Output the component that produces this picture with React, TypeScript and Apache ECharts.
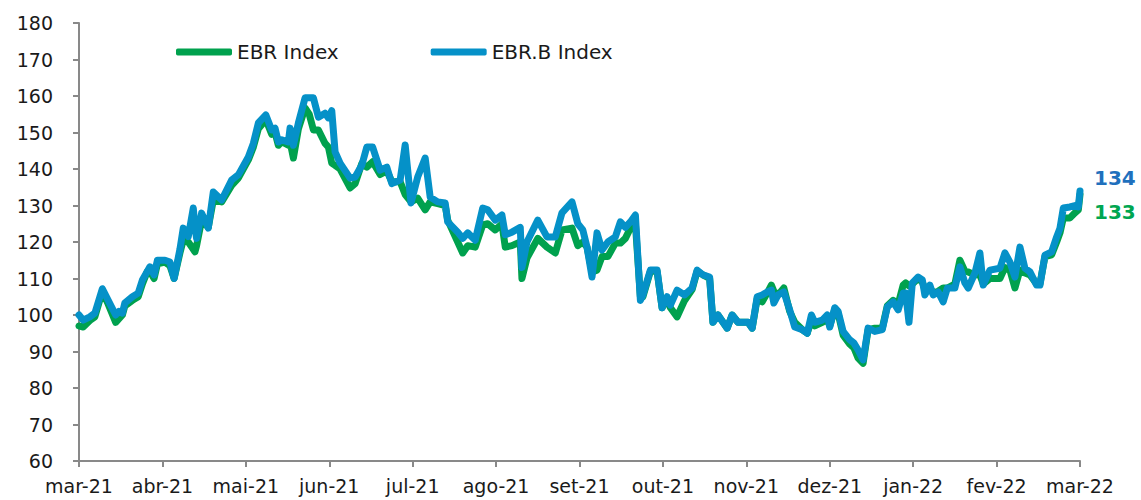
import React, { useEffect, useRef } from "react";
import * as echarts from "echarts";

// x position of each reading, in months since mar-21 (0 = mar-21, 12 = mar-22)
const months = [
  0, 0.05, 0.13, 0.19, 0.28, 0.35, 0.44, 0.48, 0.52, 0.55, 0.64, 0.71, 0.76, 0.82, 0.85, 0.9, 0.94,
  1.03, 1.09, 1.14, 1.21, 1.25, 1.31, 1.37, 1.39, 1.41, 1.47, 1.55, 1.61, 1.71, 1.83, 1.91,
  2.03, 2.09, 2.15, 2.24, 2.31, 2.35, 2.39, 2.43, 2.51, 2.53, 2.57, 2.63, 2.71, 2.76, 2.81, 2.87, 2.95, 2.99,
  3.03, 3.07, 3.13, 3.25, 3.31, 3.39, 3.45, 3.52, 3.61, 3.69, 3.75, 3.85, 3.91, 3.98,
  4.06, 4.15, 4.21, 4.3, 4.39, 4.42, 4.54, 4.6, 4.66, 4.75, 4.84, 4.9, 4.99,
  5.07, 5.11, 5.19, 5.29, 5.31, 5.37, 5.5, 5.61, 5.71, 5.79, 5.91, 5.98,
  6.04, 6.09, 6.15, 6.21, 6.27, 6.34, 6.43, 6.49, 6.55, 6.61, 6.67, 6.73, 6.76, 6.85, 6.93, 6.99,
  7.05, 7.09, 7.17, 7.26, 7.35, 7.41, 7.48, 7.56, 7.6, 7.66, 7.77, 7.83, 7.9,
  8.02, 8.07, 8.13, 8.19, 8.25, 8.3, 8.33, 8.38, 8.45, 8.52, 8.58, 8.67, 8.73, 8.78, 8.82, 8.91, 8.97,
  9.0, 9.06, 9.1, 9.16, 9.24, 9.29, 9.34, 9.4, 9.46, 9.54, 9.63, 9.69, 9.76, 9.82, 9.88, 9.91, 9.95, 9.99,
  10.06, 10.11, 10.14, 10.2, 10.24, 10.3, 10.36, 10.41, 10.5, 10.56, 10.62, 10.66, 10.74, 10.8, 10.84, 10.92,
  11.04, 11.1, 11.16, 11.22, 11.28, 11.34, 11.4, 11.48, 11.52, 11.58, 11.66, 11.72, 11.76, 11.8, 11.88, 11.94, 11.98,
  12,
];

// EBR.B Index (blue)
const ebrB = [
  100, 98.6, 99.5, 100.5, 107.2, 104, 100, 101, 100.5, 103.3, 105, 106, 109.6, 112, 113.2, 111, 115,
  115, 114.5, 110, 118, 123.8, 121.5, 129.3, 124, 121, 127.9, 123.8, 133.7, 131.5, 137, 138.4,
  143.3, 147, 152.6, 154.8, 150.7, 151.2, 147.4, 148, 147.4, 151.2, 146.5, 152.6, 159.5, 159.5, 159.5, 154.2, 155.3, 154,
  156, 144.7, 141.6, 137.5, 137.8, 141, 146, 146, 139.7, 140.5, 136, 137, 146.6, 130.7,
  137.8, 143, 132.3, 131, 130.7, 125.5, 122.7, 121, 122.5, 120.5, 129.3, 128.8, 126,
  127.4, 122, 122.7, 124, 113, 120, 126, 121.4, 121.4, 128, 131, 125,
  123.3, 118.6, 110.4, 122.5, 117.8, 120, 121.4, 125.5, 124, 125.5, 127.4, 104, 105.5, 112.3, 112.3, 102,
  105, 102.7, 106.8, 105.5, 107.4, 112.3, 111, 110.4, 98, 100, 96.4, 100, 98,
  98, 96.4, 105, 105.5, 106.3, 106.8, 103.3, 105.5, 106.3, 101.4, 96.7, 96, 95, 100, 98, 98.6, 100,
  96.7, 102, 101, 95.5, 93.2, 92.3, 90.4, 87.7, 96.4, 95.5, 96, 102.2, 103.6, 101.4, 106, 106, 98, 108.8,
  110.4, 109.6, 105.5, 108.2, 105.5, 106.3, 103.6, 107.4, 107.4, 113.2, 108.8, 107.4, 111.5, 117, 108.2, 112.3,
  112.8, 117, 114.5, 110.4, 118.6, 112.8, 111.8, 108.2, 108.2, 116.4, 117.3, 121.4, 123.8, 129.3, 129.6, 130, 129.6,
  134,
];

// EBR Index (green)
const ebr = [
  97, 96.7, 98.5, 99.5, 106.5, 103, 98, 99, 100, 102.5, 104, 105, 108.5, 112, 112, 110, 114,
  114.5, 113.5, 110, 117, 120.5, 120, 118, 117.3, 119, 126, 124, 131.5, 131, 135.5, 137.5,
  142.5, 146, 151, 153.5, 149.5, 150, 146.5, 147.5, 146.5, 147.5, 143, 151, 156.7, 155, 150.7, 150.7, 147, 146,
  141.6, 141, 140, 134.8, 136, 141.5, 140.5, 142, 138.5, 139.5, 136.5, 136.5, 133, 131,
  132, 128.8, 131, 130.5, 130, 126, 120, 117, 119, 118.6, 124.7, 125, 123.3,
  125, 118.6, 119, 120, 110, 115.6, 121, 118.6, 117, 123.3, 123.8, 119,
  120, 118.6, 111.8, 112.3, 116, 116, 119.7, 119.7, 121, 123.8, 125, 105, 105, 112, 112, 102,
  104.5, 102, 99.5, 104, 107, 112, 111, 110, 98, 100, 96.4, 100, 98,
  98, 96.4, 104.5, 103.6, 106, 108.2, 106.5, 105.5, 107.4, 101, 98, 96, 95, 98.5, 97, 98, 99,
  97, 101.5, 100.5, 94.5, 92, 91, 88.2, 86.8, 96, 96.4, 96.4, 102.5, 104, 103, 108.2, 108.8, 108, 108.5,
  110, 109, 107, 107.5, 106, 106.5, 107.4, 107.4, 108.5, 115, 112, 111.8, 111, 111, 108.5, 110,
  110, 113, 112.3, 107.4, 112.3, 111.5, 111, 108.5, 108.5, 116, 116.5, 120, 122.5, 126.6, 126.6, 128, 128.8,
  133,
];

const monthLabels = [
  "mar-21", "abr-21", "mai-21", "jun-21", "jul-21", "ago-21", "set-21",
  "out-21", "nov-21", "dez-21", "jan-22", "fev-22", "mar-22",
];

const seriesNames = ["EBR Index", "EBR.B Index"];

const GREEN = "#00a14e";
const BLUE = "#0591c8";
const FONT = "DejaVu Sans";

export default function App() {
  const ref = useRef<HTMLDivElement>(null);

  useEffect(() => {
    document.body.style.margin = "0";
    document.body.style.background = "#ffffff";
    const chart = echarts.init(ref.current!, null, { renderer: "svg" });
    const pairs = (vals: number[]) => months.map((m, i) => [m, vals[i]]);

    chart.setOption({
      animation: false,
      backgroundColor: "#ffffff",
      grid: { left: 79, right: 61, top: 23, bottom: 39 },
      legend: {
        data: seriesNames,
        left: 171,
        top: 37,
        icon: "roundRect",
        itemWidth: 56,
        itemHeight: 7,
        itemGap: 92,
        textStyle: { fontFamily: FONT, fontSize: 20, color: "#1a1a1a" },
        selectedMode: false,
      },
      xAxis: {
        type: "value",
        min: 0,
        max: 12,
        interval: 1,
        splitLine: { show: false },
        axisLine: { show: true, lineStyle: { color: "#898989", width: 2 } },
        axisTick: { show: true, length: 6, lineStyle: { color: "#898989", width: 2 } },
        axisLabel: {
          margin: 15,
          fontFamily: FONT,
          fontSize: 19,
          color: "#1a1a1a",
          formatter: (v: number) => monthLabels[Math.round(v)] ?? "",
        },
      },
      yAxis: {
        type: "value",
        min: 60,
        max: 180,
        interval: 10,
        splitLine: { show: false },
        axisLine: { show: true, lineStyle: { color: "#898989", width: 2 } },
        axisTick: { show: true, length: 6, lineStyle: { color: "#898989", width: 2 } },
        axisLabel: {
          margin: 26,
          fontFamily: FONT,
          fontSize: 19,
          color: "#1a1a1a",
        },
      },
      series: [
        {
          name: seriesNames[0],
          type: "line",
          data: pairs(ebr),
          showSymbol: false,
          symbol: "none",
          color: GREEN,
          lineStyle: { color: GREEN, width: 7, cap: "round", join: "round" },
          endLabel: {
            show: true,
            formatter: (p: any) => String(Math.round(p.value[1])),
            color: "#00a651",
            fontFamily: FONT,
            fontWeight: "bold",
            fontSize: 20,
            distance: 14,
            offset: [0, 17],
          },
          z: 2,
        },
        {
          name: seriesNames[1],
          type: "line",
          data: pairs(ebrB),
          showSymbol: false,
          symbol: "none",
          color: BLUE,
          lineStyle: { color: BLUE, width: 7, cap: "round", join: "round" },
          endLabel: {
            show: true,
            formatter: (p: any) => String(Math.round(p.value[1])),
            color: "#1f70bd",
            fontFamily: FONT,
            fontWeight: "bold",
            fontSize: 20,
            distance: 14,
            offset: [0, -13],
          },
          z: 3,
        },
      ],
    });
    return () => chart.dispose();
  }, []);

  return <div ref={ref} style={{ width: 1141, height: 500 }} />;
}
